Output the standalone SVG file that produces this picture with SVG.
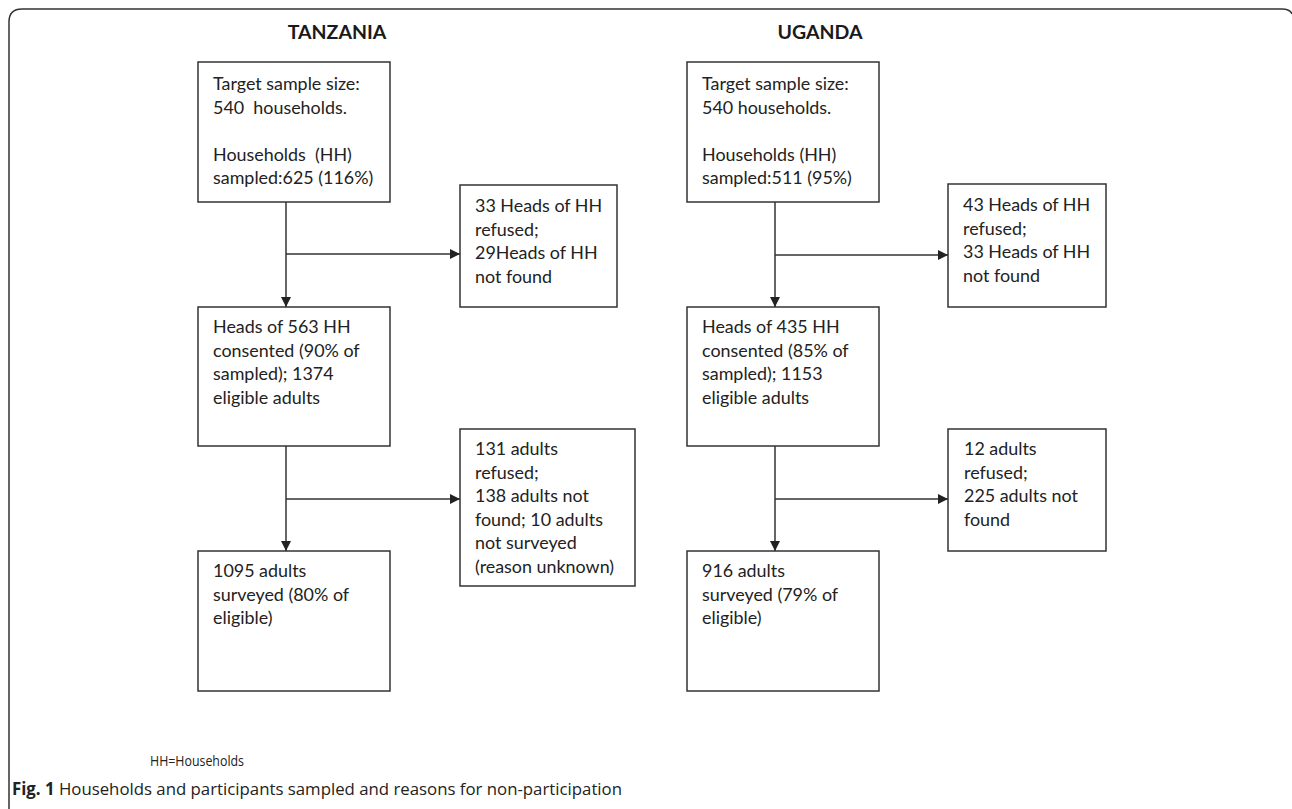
<svg xmlns="http://www.w3.org/2000/svg" width="1292" height="809" viewBox="0 0 1292 809">
<style>
.box{fill:#fff;stroke:#333;stroke-width:1.5}
.t{font-family:Lato,"Open Sans","Liberation Sans",sans-serif;font-size:17.9px;fill:#222;white-space:pre}
.h{font-family:Lato,"Open Sans","Liberation Sans",sans-serif;font-size:19.5px;font-weight:bold;fill:#1a1a1a}
.ln{fill:none;stroke:#333;stroke-width:1.5}
.cap{font-family:"Open Sans","Liberation Sans",sans-serif;fill:#222}
</style>
<defs>
<marker id="ah" viewBox="0 0 10 10" refX="10" refY="5" markerWidth="10" markerHeight="10" markerUnits="userSpaceOnUse" orient="auto">
<path d="M0,0 L10,5 L0,10 Z" fill="#222"/>
</marker>
</defs>
<rect width="1292" height="809" fill="#fff"/>
<path class="ln" d="M9,809 L9,22 Q9,9 22,9 L1282,9 Q1290,9 1292,14" stroke="#222" stroke-width="2"/>
<text class="h" x="337" y="39" text-anchor="middle">TANZANIA</text>
<text class="h" x="820" y="39" text-anchor="middle">UGANDA</text>

<g id="tz1"><rect class="box" x="198" y="62" width="192" height="140"/>
<text class="t" x="213" y="90">Target sample size:</text>
<text class="t" x="213" y="113.5" xml:space="preserve">540  households.</text>
<text class="t" x="213" y="160.5" xml:space="preserve">Households  (HH)</text>
<text class="t" x="213" y="184">sampled:625 (116%)</text></g>

<g id="tz1s"><rect class="box" x="460" y="185" width="157" height="122"/>
<text class="t" x="475" y="212">33 Heads of HH</text>
<text class="t" x="475" y="235.5">refused;</text>
<text class="t" x="475" y="259">29Heads of HH</text>
<text class="t" x="475" y="282.5">not found</text></g>

<g id="tz2"><rect class="box" x="198" y="307" width="192" height="139"/>
<text class="t" x="213" y="333">Heads of 563 HH</text>
<text class="t" x="213" y="356.5">consented (90% of</text>
<text class="t" x="213" y="380">sampled); 1374</text>
<text class="t" x="213" y="403.5">eligible adults</text></g>

<g id="tz2s"><rect class="box" x="460" y="429" width="175" height="157"/>
<text class="t" x="475" y="455">131 adults</text>
<text class="t" x="475" y="478.5">refused;</text>
<text class="t" x="475" y="502">138 adults not</text>
<text class="t" x="475" y="525.5">found; 10 adults</text>
<text class="t" x="475" y="549">not surveyed</text>
<text class="t" x="475" y="572.5">(reason unknown)</text></g>

<g id="tz3"><rect class="box" x="198" y="551" width="192" height="140"/>
<text class="t" x="213" y="577">1095 adults</text>
<text class="t" x="213" y="600.5">surveyed (80% of</text>
<text class="t" x="213" y="624">eligible)</text></g>

<g id="ug1"><rect class="box" x="687" y="62" width="192" height="140"/>
<text class="t" x="702" y="90">Target sample size:</text>
<text class="t" x="702" y="113.5">540 households.</text>
<text class="t" x="702" y="160.5">Households (HH)</text>
<text class="t" x="702" y="184">sampled:511 (95%)</text></g>

<g id="ug1s"><rect class="box" x="948" y="184" width="158" height="123"/>
<text class="t" x="963" y="211">43 Heads of HH</text>
<text class="t" x="963" y="234.5">refused;</text>
<text class="t" x="963" y="258">33 Heads of HH</text>
<text class="t" x="963" y="281.5">not found</text></g>

<g id="ug2"><rect class="box" x="687" y="307" width="192" height="139"/>
<text class="t" x="702" y="333">Heads of 435 HH</text>
<text class="t" x="702" y="356.5">consented (85% of</text>
<text class="t" x="702" y="380">sampled); 1153</text>
<text class="t" x="702" y="403.5">eligible adults</text></g>

<g id="ug2s"><rect class="box" x="948" y="429" width="158" height="122"/>
<text class="t" x="964" y="455">12 adults</text>
<text class="t" x="964" y="478.5">refused;</text>
<text class="t" x="964" y="502">225 adults not</text>
<text class="t" x="964" y="525.5">found</text></g>

<g id="ug3"><rect class="box" x="687" y="551" width="192" height="140"/>
<text class="t" x="702" y="577">916 adults</text>
<text class="t" x="702" y="600.5">surveyed (79% of</text>
<text class="t" x="702" y="624">eligible)</text></g>

<g id="connectors">
<path class="ln" d="M286,202 L286,307" marker-end="url(#ah)"/>
<path class="ln" d="M286,254 L460,254" marker-end="url(#ah)"/>
<path class="ln" d="M286,446 L286,551" marker-end="url(#ah)"/>
<path class="ln" d="M286,499 L460,499" marker-end="url(#ah)"/>
<path class="ln" d="M775,202 L775,307" marker-end="url(#ah)"/>
<path class="ln" d="M775,255 L948,255" marker-end="url(#ah)"/>
<path class="ln" d="M775,446 L775,551" marker-end="url(#ah)"/>
<path class="ln" d="M775,499 L948,499" marker-end="url(#ah)"/>
</g>

<text class="cap" x="150" y="766" font-size="15" textLength="94" lengthAdjust="spacingAndGlyphs">HH=Households</text>
<text class="cap" x="12" y="795" font-size="17" textLength="610" lengthAdjust="spacingAndGlyphs"><tspan font-weight="bold">Fig. 1</tspan> Households and participants sampled and reasons for non-participation</text>
</svg>
